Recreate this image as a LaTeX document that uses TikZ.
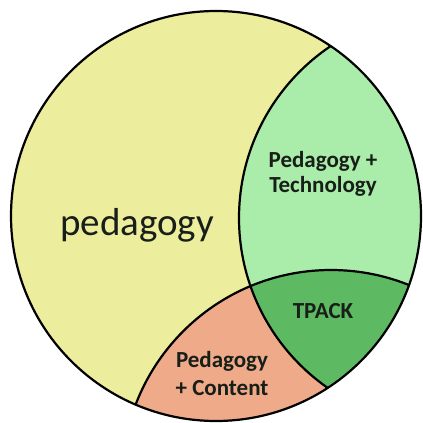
\documentclass[tikz,border=0pt]{standalone}
\usepackage{fontspec}
\setmainfont{Carlito}

\definecolor{pedyellow}{RGB}{237,237,158}
\definecolor{techgreen}{RGB}{170,236,170}
\definecolor{tpackgreen}{RGB}{94,186,98}
\definecolor{contsalmon}{RGB}{239,170,138}
\definecolor{textdark}{RGB}{24,30,24}

\begin{document}
\begin{tikzpicture}[
    x=1pt,y=-1pt,
    ring/.style={draw=black,line width=2.2pt},
    area/.style={font=\bfseries\fontsize{23}{25}\selectfont,text=textdark,align=center}
    ]

    \path[use as bounding box,fill=white] (0,0) rectangle (423,423);

    % circle centres:
    \coordinate (p) at (216,216);
    \coordinate (t) at (446,218);
    \coordinate (c) at (331,479);

    % pedagogy disc:
    \fill[pedyellow] (p) circle (205pt);

    \begin{scope}
      \clip (p) circle (205pt);
      \fill[techgreen] (t) circle (207pt);
      \fill[contsalmon] (c) circle (209pt);
      % overlap of all three:
      \begin{scope}
        \clip (t) circle (207pt);
        \fill[tpackgreen] (c) circle (209pt);
      \end{scope}
      % inner borders:
      \draw[ring] (t) circle (207pt);
      \draw[ring] (c) circle (209pt);
    \end{scope}
    \draw[ring] (p) circle (205pt);

    % labels:
    \node (ped) at (137,235) [anchor=base,text=textdark,font=\fontsize{39}{40}\selectfont] {pedagogy};
    \node (pt) at (323,174) [area] {Pedagogy +\\Technology};
    \node (tpack) at (323,318) [area,anchor=base] {TPACK};
    \node (pc) at (222,374) [area,font=\bfseries\fontsize{23}{28}\selectfont] {Pedagogy\\+ Content};

\end{tikzpicture}
\end{document}
